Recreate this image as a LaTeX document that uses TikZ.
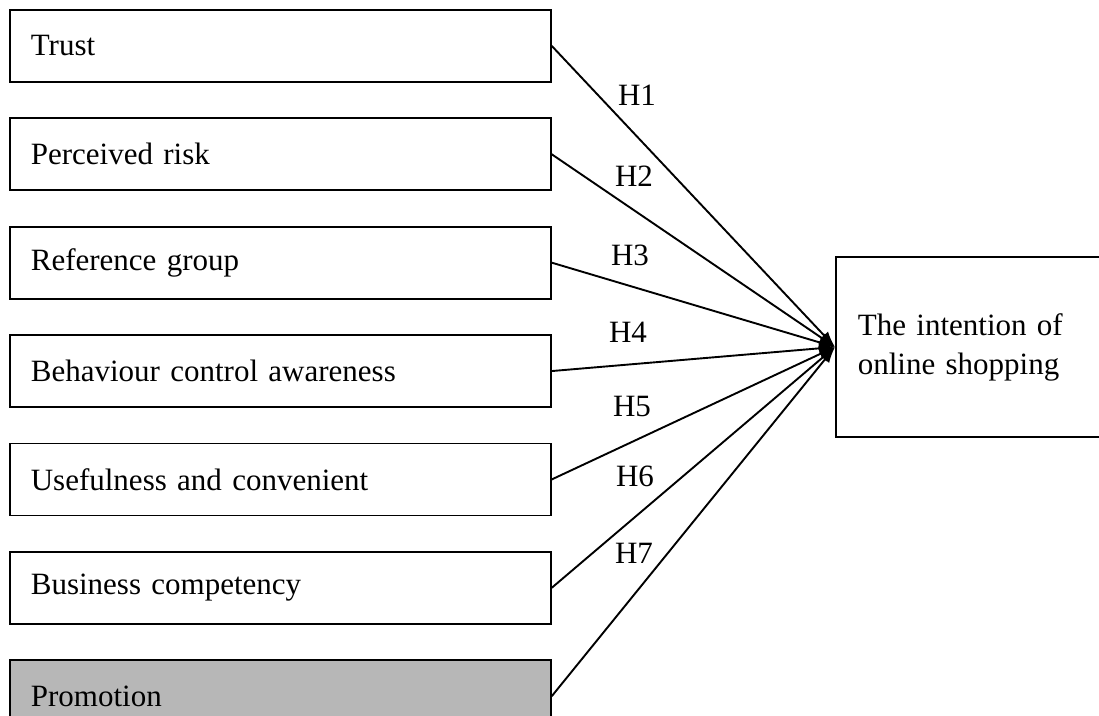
\documentclass[tikz,border=0pt]{standalone}
\usepackage{fontspec}
\setmainfont{Liberation Serif}
\usetikzlibrary{arrows.meta, positioning}
\definecolor{promogray}{RGB}{183,183,183}

\begin{document}
\begin{tikzpicture}[x=1pt, y=-1pt, node distance=34.7pt,
    every node/.style={font=\fontsize{31}{39}\selectfont},
    factor/.style={draw, line width=1.7pt, minimum height=72pt,
      text width=499pt, inner xsep=21pt, inner ysep=0pt, align=left},
    outcome/.style={draw, line width=1.7pt, minimum height=180pt,
      text width=260pt, inner xsep=22pt, align=left},
    link/.style={line width=1.9pt, -{Latex[length=16pt, width=11pt]}},
    hyp/.style={inner sep=0pt}]
  \useasboundingbox (0,0) rectangle (1099,715);

  % Antecedent factors
  \node[factor, anchor=north west] (trust) at (9,9) {Trust};
  \node[factor, below=of trust] (risk) {Perceived risk};
  \node[factor, below=of risk] (refgroup) {Reference group};
  \node[factor, below=of refgroup] (control) {Behaviour control awareness};
  \node[factor, below=of control] (useful) {Usefulness and convenient};
  \node[factor, below=of useful] (competency) {Business competency};
  \node[factor, fill=promogray, below=of competency] (promo) {Promotion};

  % Outcome
  \node[outcome, anchor=west] (intent) at (835,347)
    {The intention of\\online shopping};

  % Hypothesised paths
  \draw[link] (trust.east) -- (intent.west);
  \draw[link] (risk.east) -- (intent.west);
  \draw[link] (refgroup.east) -- (intent.west);
  \draw[link] (control.east) -- (intent.west);
  \draw[link] (useful.east) -- (intent.west);
  \draw[link] (competency.east) -- (intent.west);
  \draw[link] (promo.east) -- (intent.west);

  % Path labels
  \node[hyp] (h1) at (637,95) {H1};
  \node[hyp] (h2) at (634,176) {H2};
  \node[hyp] (h3) at (630,255) {H3};
  \node[hyp] (h4) at (628,332) {H4};
  \node[hyp] (h5) at (632,406) {H5};
  \node[hyp] (h6) at (635,476) {H6};
  \node[hyp] (h7) at (634,553) {H7};
\end{tikzpicture}
\end{document}
